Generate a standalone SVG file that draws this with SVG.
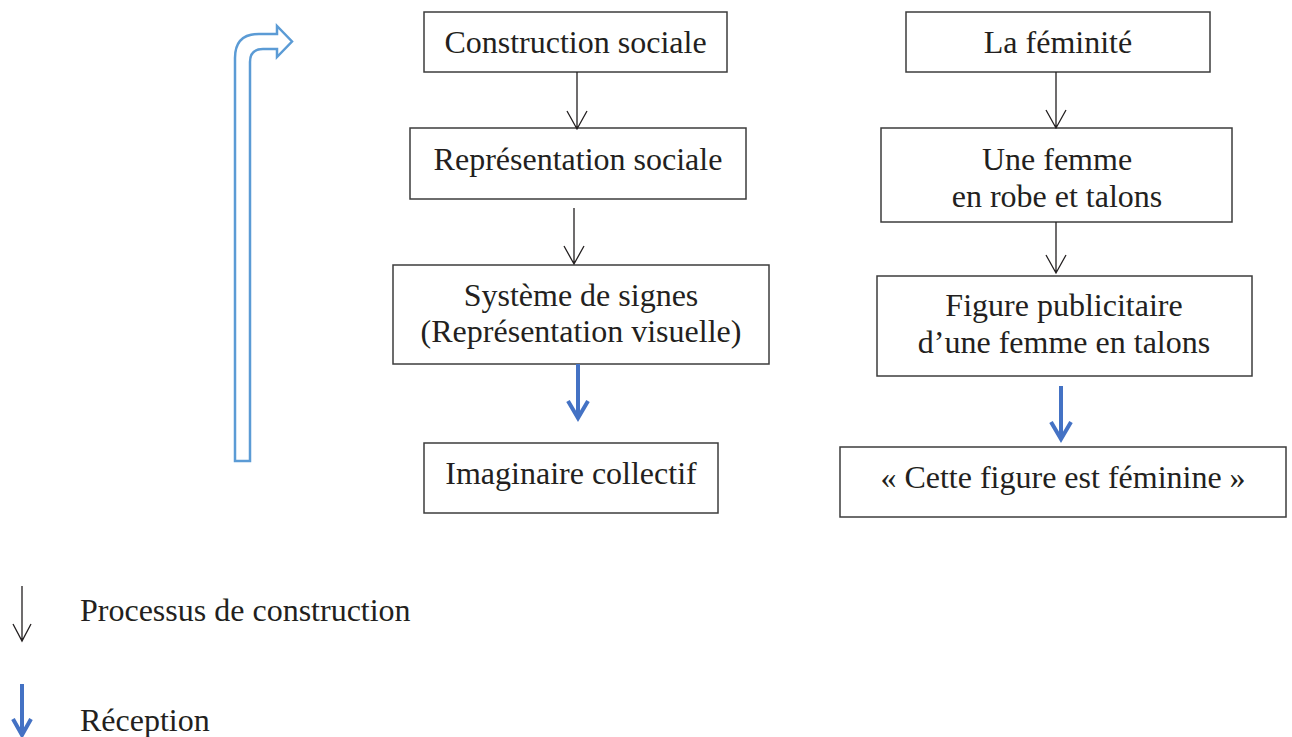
<svg xmlns="http://www.w3.org/2000/svg" width="1292" height="737" viewBox="0 0 1292 737">
<style>
.box{fill:#fff;stroke:#3c3c3c;stroke-width:1.5}
.t{font-family:"Liberation Serif","Times New Roman",serif;font-size:32px;fill:#231f20;text-anchor:middle}
.lt{font-family:"Liberation Serif","Times New Roman",serif;font-size:32px;fill:#231f20}
.thin{stroke:#231f20;stroke-width:1.3;fill:none}
.blue{stroke:#4472c4;stroke-width:4;fill:none}
</style>
<rect width="1292" height="737" fill="#fff"/>
<g id="bent-arrow">
<path d="M235,461 L235,58 Q235,34 259,34 L277,34 L277,26 L292,41.5 L277,57 L277,49 L263,49 Q250,49 250,62 L250,461 Z" fill="#fff" stroke="#5b9bd5" stroke-width="2.5" stroke-linejoin="miter"/>
</g>
<g id="n1"><rect class="box" x="424" y="12" width="303" height="60"/><text class="t" x="575.5" y="53">Construction sociale</text></g>
<g id="n2"><rect class="box" x="410" y="128" width="336" height="71"/><text class="t" x="578" y="170">Représentation sociale</text></g>
<g id="n3"><rect class="box" x="393" y="265" width="376" height="99"/><text class="t" x="581" y="306">Système de signes</text><text class="t" x="581" y="342">(Représentation visuelle)</text></g>
<g id="n4"><rect class="box" x="424" y="443" width="294" height="70"/><text class="t" x="571" y="484">Imaginaire collectif</text></g>
<g id="n5"><rect class="box" x="906" y="12" width="304" height="60"/><text class="t" x="1058" y="53">La féminité</text></g>
<g id="n6"><rect class="box" x="881" y="128" width="351" height="94"/><text class="t" x="1057" y="170">Une femme</text><text class="t" x="1057" y="207">en robe et talons</text></g>
<g id="n7"><rect class="box" x="877" y="276" width="375" height="100"/><text class="t" x="1064" y="316">Figure publicitaire</text><text class="t" x="1064" y="353">d’une femme en talons</text></g>
<g id="n8"><rect class="box" x="840" y="447" width="446" height="70"/><text class="t" x="1063" y="488">« Cette figure est féminine »</text></g>
<g id="connectors">
<path class="thin" d="M577,72 L577,129 M567,111 L577,129 L587,111"/>
<path class="thin" d="M574,208 L574,264 M564,246 L574,264 L584,246"/>
<path class="thin" d="M1056,72 L1056,128 M1046,110 L1056,128 L1066,110"/>
<path class="thin" d="M1056,222 L1056,273 M1046,255 L1056,273 L1066,255"/>
<path class="blue" d="M578,364 L578,418 M568,401 L578,418 L588,401"/>
<path class="blue" d="M1061,386 L1061,439 M1051,422 L1061,439 L1071,422"/>
</g>
<g id="legend">
<path class="thin" d="M22,586 L22,641 M13,624 L22,641 L31,624"/>
<text class="lt" x="80" y="621">Processus de construction</text>
<path class="blue" d="M22,684 L22,735 M13,719 L22,735 L31,719"/>
<text class="lt" x="80" y="731">Réception</text>
</g>
</svg>
